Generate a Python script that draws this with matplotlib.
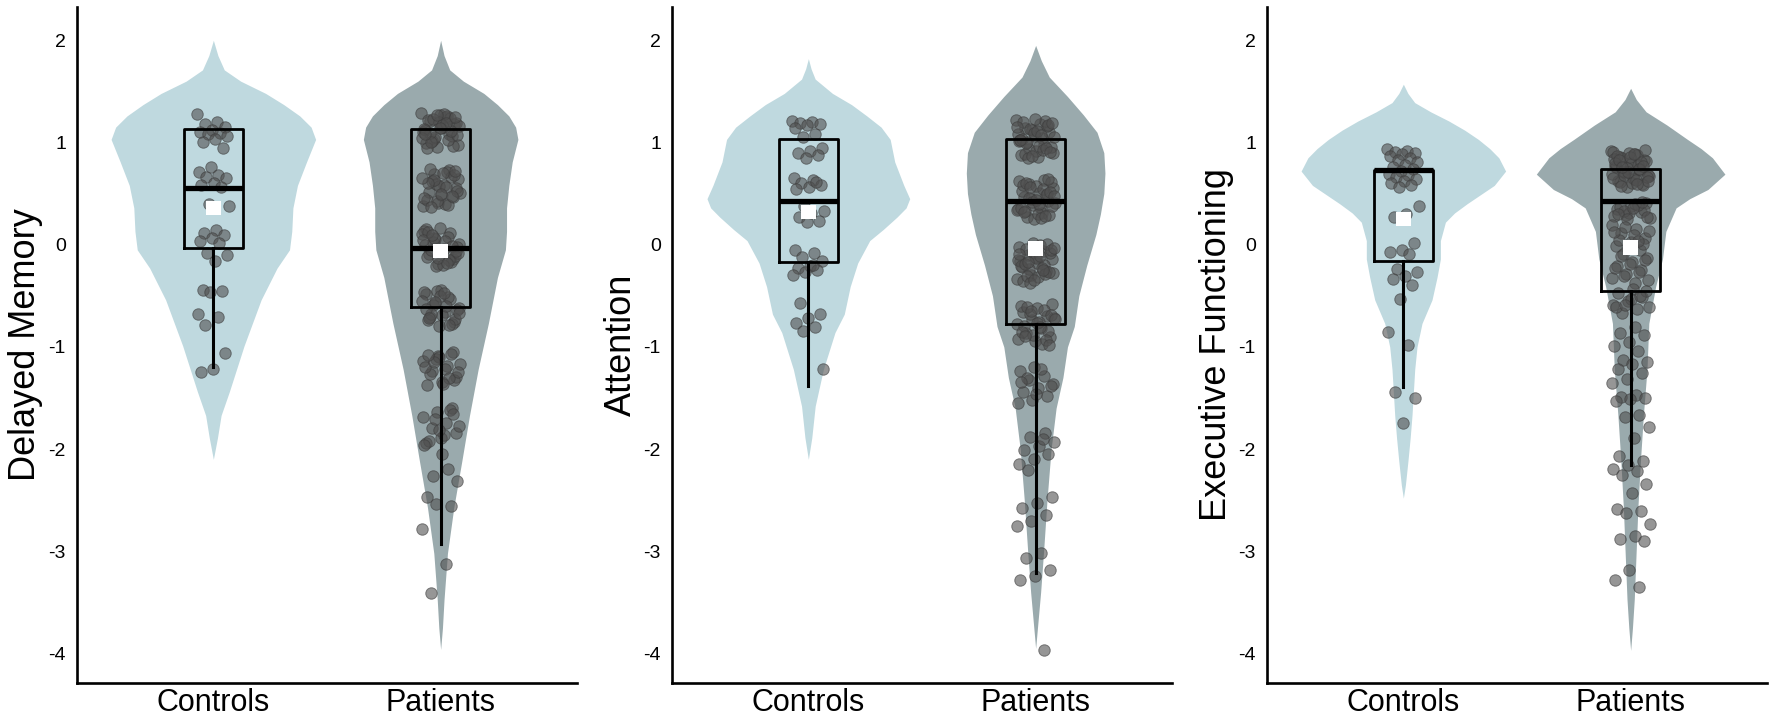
import matplotlib.pyplot as plt
import numpy as np

plt.rcParams["font.family"] = ["Liberation Sans", "DejaVu Sans"]

groups = ["Controls", "Patients"]
panel_labels = ["Delayed Memory", "Attention", "Executive Functioning"]

# violin outlines: y level and half width (x units)
dm_ctrl_y = [2.0, 1.85, 1.71, 1.6, 1.48, 1.37, 1.26, 1.15, 1.03, 0.92, 0.81, 0.58, 0.36, 0.13,
             -0.05, -0.23, -0.54, -0.99, -1.44, -1.67, -1.89, -2.1]
dm_ctrl_w = [0.0, 0.02, 0.048, 0.12, 0.23, 0.31, 0.38, 0.43, 0.45, 0.43, 0.41, 0.37, 0.35, 0.345,
             0.335, 0.28, 0.21, 0.135, 0.07, 0.034, 0.018, 0.0]
dm_pat_y = [2.0, 1.85, 1.71, 1.6, 1.48, 1.37, 1.26, 1.15, 1.03, 0.81, 0.58, 0.36, 0.13, -0.05,
            -0.32, -0.77, -1.22, -1.67, -2.12, -2.57, -3.02, -3.47, -3.75, -3.96]
dm_pat_w = [0.0, 0.015, 0.04, 0.1, 0.19, 0.25, 0.30, 0.33, 0.34, 0.315, 0.30, 0.29, 0.29, 0.285,
            0.25, 0.21, 0.165, 0.127, 0.093, 0.058, 0.03, 0.015, 0.008, 0.0]

at_ctrl_y = [1.82, 1.72, 1.62, 1.48, 1.37, 1.26, 1.15, 1.03, 0.81, 0.58, 0.45, 0.36, 0.27, 0.15,
             0.04, -0.18, -0.41, -0.68, -0.86, -1.22, -1.58, -1.89, -2.1]
at_ctrl_w = [0.0, 0.012, 0.03, 0.106, 0.19, 0.257, 0.32, 0.36, 0.38, 0.42, 0.446, 0.43, 0.39, 0.33,
             0.27, 0.217, 0.184, 0.158, 0.117, 0.066, 0.03, 0.015, 0.0]
at_pat_y = [1.95, 1.8, 1.64, 1.45, 1.27, 1.1, 0.9, 0.7, 0.5, 0.3, 0.1, -0.2, -0.5, -0.8, -1.0,
            -1.3, -1.6, -2.0, -2.5, -3.0, -3.4, -3.7, -3.95]
at_pat_w = [0.0, 0.025, 0.06, 0.14, 0.21, 0.27, 0.30, 0.305, 0.30, 0.285, 0.265, 0.225, 0.19, 0.17,
            0.14, 0.12, 0.09, 0.068, 0.05, 0.035, 0.022, 0.01, 0.0]

ef_ctrl_y = [1.57, 1.48, 1.39, 1.3, 1.21, 1.12, 1.03, 0.94, 0.85, 0.72, 0.58, 0.49, 0.40, 0.31,
             0.22, 0.04, -0.14, -0.32, -0.54, -0.77, -1.0, -1.22, -1.67, -1.89, -2.12, -2.35, -2.48]
ef_ctrl_w = [0.0, 0.02, 0.05, 0.12, 0.2, 0.27, 0.33, 0.38, 0.42, 0.45, 0.40, 0.34, 0.28, 0.225,
             0.185, 0.163, 0.163, 0.148, 0.126, 0.082, 0.06, 0.05, 0.038, 0.03, 0.02, 0.009, 0.0]
ef_pat_y = [1.53, 1.42, 1.30, 1.17, 1.03, 0.94, 0.85, 0.69, 0.54, 0.45, 0.36, 0.13, -0.14, -0.41,
            -0.77, -1.22, -1.67, -2.12, -2.57, -3.02, -3.47, -3.75, -3.97]
ef_pat_w = [0.0, 0.025, 0.068, 0.16, 0.25, 0.31, 0.36, 0.415, 0.34, 0.26, 0.2, 0.155, 0.14, 0.11,
            0.08, 0.072, 0.056, 0.043, 0.032, 0.024, 0.016, 0.008, 0.0]

# box summaries per group (Controls, Patients)
dm_q1 = [-0.03, -0.61]
dm_med = [0.55, -0.03]
dm_q3 = [1.13, 1.13]
dm_wlo = [-1.20, -2.93]
dm_mean = [0.36, -0.06]

at_q1 = [-0.17, -0.78]
at_med = [0.43, 0.43]
at_q3 = [1.03, 1.03]
at_wlo = [-1.38, -3.21]
at_mean = [0.32, -0.04]

ef_q1 = [-0.16, -0.45]
ef_med = [0.73, 0.43]
ef_q3 = [0.73, 0.74]
ef_wlo = [-1.39, -2.16]
ef_mean = [0.25, -0.03]

# individual (jittered) scores
dm_ctrl_pts = [1.28, 1.20, 1.18, 1.15, 1.12, 1.10, 1.09, 1.08, 1.06, 1.03, 1.00, 0.95, 0.76, 0.71,
               0.68, 0.66, 0.65, 0.60, 0.58, 0.56, 0.40, 0.38, 0.14, 0.11, 0.09, 0.07, 0.04, 0.02,
               -0.08, -0.10, -0.16, -0.44, -0.45, -0.46, -0.68, -0.71, -0.79, -1.06, -1.22, -1.25]
dm_pat_pts = [1.29, 1.25, 1.21, 1.18, 1.27, 1.12, 1.08, 1.03, 0.98, 1.15, 1.22, 1.06, 0.96, 1.10,
              1.26, 1.01, 1.19, 1.14, 0.99, 1.24, 1.05, 1.16, 1.28, 1.09, 0.97, 1.20, 1.13, 1.02,
              1.23, 1.07, 1.17, 0.95, 1.11, 1.27, 1.04, 1.19, 1.00, 1.25, 1.14, 1.08,
              0.73, 0.69, 0.64, 0.58, 0.52, 0.47, 0.41, 0.38, 0.71, 0.62, 0.55, 0.49, 0.44, 0.66,
              0.59, 0.51, 0.40, 0.74, 0.68, 0.57, 0.46, 0.39, 0.63, 0.53, 0.70, 0.60, 0.48, 0.43,
              0.65, 0.56, 0.37, 0.72, 0.50,
              0.15, 0.11, 0.06, 0.01, -0.04, -0.09, -0.14, -0.19, 0.13, 0.08, 0.03, -0.02, -0.07,
              -0.12, -0.17, -0.21, 0.10, 0.04, -0.05, -0.11, 0.16, 0.00, -0.15, 0.07, -0.08, -0.20,
              0.12, -0.01, -0.13, 0.05, -0.18, 0.09, -0.06,
              -0.44, -0.48, -0.53, -0.57, -0.62, -0.66, -0.71, -0.76, -0.80, -0.46, -0.51, -0.59,
              -0.64, -0.69, -0.74, -0.78, -0.45, -0.55, -0.60, -0.68, -0.73, -0.50, -0.63, -0.79,
              -0.56, -0.67, -0.47, -0.72,
              -1.05, -1.09, -1.14, -1.19, -1.24, -1.29, -1.34, -1.37, -1.07, -1.12, -1.17, -1.22,
              -1.27, -1.32, -1.10, -1.20, -1.30, -1.15, -1.25, -1.36, -1.08,
              -1.60, -1.64, -1.69, -1.74, -1.79, -1.84, -1.89, -1.94, -1.62, -1.71, -1.77, -1.86,
              -1.92, -1.66, -1.81, -1.96,
              -2.19, -2.26, -2.31, -2.05, -2.47, -2.56, -2.54, -2.78, -3.12, -3.41]

at_ctrl_pts = [1.21, 1.20, 1.19, 1.18, 1.17, 1.14, 1.08, 1.05, 0.95, 0.92, 0.90, 0.88, 0.85, 0.65,
               0.63, 0.60, 0.58, 0.56, 0.54, 0.61, 0.38, 0.33, 0.31, 0.27, 0.23, 0.22, -0.05, -0.08,
               -0.12, -0.16, -0.21, -0.23, -0.25, -0.27, -0.30, -0.20, -0.57, -0.68, -0.72, -0.77,
               -0.81, -0.84, -1.22]
at_pat_pts = [1.22, 1.18, 1.14, 1.10, 1.06, 1.02, 0.98, 0.94, 0.90, 0.86, 1.20, 1.16, 1.12, 1.08,
              1.04, 1.00, 0.96, 0.92, 0.88, 1.21, 1.13, 1.05, 0.97, 0.89, 1.17, 1.09, 1.01, 0.93,
              0.85, 1.19, 1.11, 1.03, 0.95, 0.87, 1.15, 1.07, 0.99, 0.91, 1.23, 1.02,
              0.63, 0.59, 0.55, 0.51, 0.47, 0.43, 0.39, 0.35, 0.31, 0.27, 0.61, 0.57, 0.53, 0.49,
              0.45, 0.41, 0.37, 0.33, 0.29, 0.25, 0.62, 0.54, 0.46, 0.38, 0.30, 0.58, 0.50, 0.42,
              0.34, 0.26, 0.60, 0.52, 0.44, 0.36, 0.28, 0.56, 0.48, 0.40, 0.32, 0.64,
              0.02, -0.02, -0.06, -0.10, -0.14, -0.18, -0.22, -0.26, -0.30, -0.34, 0.00, -0.04,
              -0.08, -0.12, -0.16, -0.20, -0.24, -0.28, -0.32, -0.36, 0.01, -0.07, -0.15, -0.23,
              -0.31, -0.05, -0.13, -0.21, -0.29, -0.37, -0.03, -0.11, -0.19, -0.27, -0.35, -0.09,
              -0.25, -0.17,
              -0.58, -0.62, -0.66, -0.70, -0.74, -0.78, -0.82, -0.86, -0.90, -0.94, -0.60, -0.64,
              -0.68, -0.72, -0.76, -0.80, -0.84, -0.88, -0.92, -0.97, -0.61, -0.69, -0.77, -0.85,
              -0.93, -0.65, -0.73, -0.81, -0.89, -0.98,
              -1.20, -1.24, -1.28, -1.32, -1.36, -1.40, -1.44, -1.48, -1.52, -1.55, -1.22, -1.30,
              -1.38, -1.46, -1.34,
              -1.84, -1.88, -1.93, -1.97, -2.01, -2.05, -2.10, -2.15, -1.90, -2.20,
              -2.47, -2.53, -2.58, -2.64, -2.70, -2.75,
              -3.02, -3.07, -3.18, -3.24, -3.28, -3.97]

ef_ctrl_pts = [0.94, 0.92, 0.91, 0.90, 0.89, 0.87, 0.85, 0.83, 0.81, 0.78, 0.76, 0.74, 0.72, 0.69,
               0.68, 0.66, 0.64, 0.62, 0.60, 0.58, 0.56, 0.38, 0.30, 0.27, 0.02, -0.05, -0.07,
               -0.09, -0.24, -0.27, -0.31, -0.34, -0.39, -0.53, -0.85, -0.98, -1.44, -1.50, -1.74]
ef_pat_pts = [0.92, 0.89, 0.86, 0.83, 0.80, 0.77, 0.74, 0.71, 0.68, 0.65, 0.62, 0.59, 0.56, 0.91,
              0.88, 0.85, 0.82, 0.79, 0.76, 0.73, 0.70, 0.67, 0.64, 0.61, 0.58, 0.90, 0.84, 0.78,
              0.72, 0.66, 0.60, 0.87, 0.81, 0.75, 0.69, 0.63, 0.57, 0.93, 0.86, 0.80, 0.74, 0.68,
              0.62, 0.89, 0.83, 0.77, 0.71, 0.65, 0.59, 0.76,
              0.41, 0.38, 0.35, 0.32, 0.29, 0.26, 0.40, 0.37, 0.34, 0.31, 0.28, 0.39, 0.33, 0.27,
              0.36, 0.30, 0.42, 0.25,
              0.19, 0.15, 0.11, 0.07, 0.03, -0.01, -0.05, 0.17, 0.13, 0.09, 0.05, 0.01, -0.03,
              0.12, 0.04,
              -0.09, -0.13, -0.17, -0.21, -0.25, -0.29, -0.33, -0.37, -0.11, -0.15, -0.19, -0.23,
              -0.27, -0.31, -0.35,
              -0.43, -0.47, -0.51, -0.55, -0.59, -0.63, -0.67, -0.45, -0.53, -0.61,
              -0.50, -0.59, -0.61, -0.81, -0.86, -0.88, -0.95, -0.99, -1.04, -1.13, -1.15, -1.17,
              -1.22, -1.26, -1.31, -1.35, -1.47, -1.49, -1.50, -1.51, -1.53, -1.67, -1.69, -1.78,
              -1.89, -2.07, -2.12, -2.16, -2.19, -2.21, -2.25, -2.34, -2.43, -2.59, -2.61, -2.63,
              -2.73, -2.85, -2.88, -2.90, -3.18, -3.28, -3.35]

ctrl_color = "#bfd9df"
pat_color = "#9aaaad"
point_color = "#505050"

panels = [
    (panel_labels[0], [(dm_ctrl_y, dm_ctrl_w), (dm_pat_y, dm_pat_w)], [dm_ctrl_pts, dm_pat_pts],
     dm_q1, dm_med, dm_q3, dm_wlo, dm_mean),
    (panel_labels[1], [(at_ctrl_y, at_ctrl_w), (at_pat_y, at_pat_w)], [at_ctrl_pts, at_pat_pts],
     at_q1, at_med, at_q3, at_wlo, at_mean),
    (panel_labels[2], [(ef_ctrl_y, ef_ctrl_w), (ef_pat_y, ef_pat_w)], [ef_ctrl_pts, ef_pat_pts],
     ef_q1, ef_med, ef_q3, ef_wlo, ef_mean),
]

fig = plt.figure(figsize=(17.72, 7.26), dpi=100)
lefts = [77 / 1772, 672 / 1772, 1267 / 1772]
positions = [1, 2]

for left, (label, outlines, pts, q1, med, q3, wlo, mean) in zip(lefts, panels):
    ax = fig.add_axes([left, 0.059, 500 / 1772, 0.932])

    # violins
    for pos, (vy, vw), col in zip(positions, outlines, [ctrl_color, pat_color]):
        vy = np.array(vy)
        vw = np.array(vw)
        ax.fill_betweenx(vy, pos - vw, pos + vw, color=col, lw=0, zorder=1)

    # jittered points (deterministic horizontal spread)
    for pos, vals, spread in zip(positions, pts, [0.07, 0.085]):
        idx = np.arange(len(vals))
        jit = spread * (2 * ((idx * 0.618034) % 1) - 1)
        ax.scatter(pos + jit, vals, s=68, color=point_color, alpha=0.6,
                   edgecolors="#3c3c3c", linewidths=0.7, zorder=2)

    # boxes
    stats = []
    for i in range(2):
        stats.append({"q1": q1[i], "med": med[i], "q3": q3[i],
                      "whislo": wlo[i], "whishi": q3[i], "mean": mean[i]})
    ax.bxp(stats, positions=positions, widths=0.26, showfliers=False, showcaps=False,
           showmeans=False, patch_artist=False,
           boxprops=dict(color="black", lw=2.0),
           medianprops=dict(color="black", lw=3.8, solid_capstyle="butt"),
           whiskerprops=dict(color="black", lw=2.2),
           zorder=3)

    # means
    ax.scatter(positions, mean, marker="s", s=110, color="white", edgecolors="none", zorder=4)

    ax.set_xlim(0.4, 2.6)
    ax.set_ylim(-4.29, 2.33)
    ax.set_xticks(positions)
    ax.set_xticklabels(groups, fontsize=22)
    ax.set_yticks([-4, -3, -2, -1, 0, 1, 2])
    ax.set_yticklabels(["-4", "-3", "-2", "-1", "0", "1", "2"], fontsize=14)
    ax.tick_params(axis="x", length=0, pad=3.5)
    ax.tick_params(axis="y", length=0, pad=8)
    ax.set_ylabel(label, fontsize=26, va="center")
    ax.yaxis.set_label_coords(-0.102, 0.5)

    for side in ["top", "right"]:
        ax.spines[side].set_visible(False)
    for side in ["left", "bottom"]:
        ax.spines[side].set_linewidth(1.9)
        ax.spines[side].set_color("black")
    ax.set_facecolor("white")

fig.savefig("out.png", dpi=100)
